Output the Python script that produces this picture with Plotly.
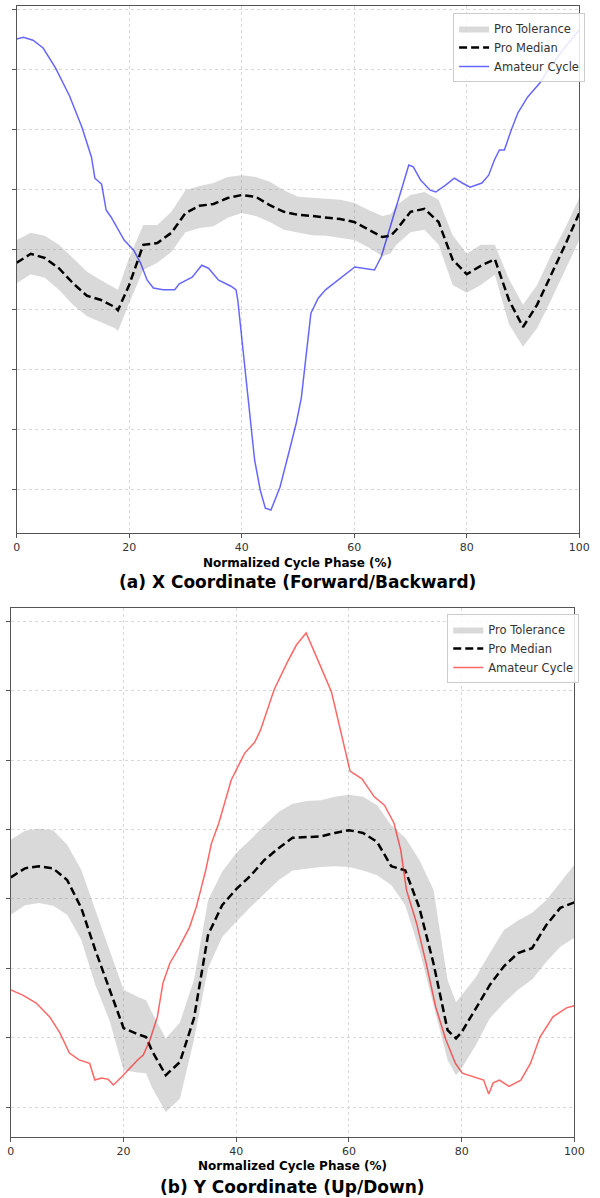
import plotly.graph_objects as go

# ---------------- (a) X coordinate ----------------
phase_a = [0, 2.5, 5, 7.5, 10, 12.5, 15, 17.5, 18, 20, 22.5, 25, 27.5, 30, 32.5, 35,
           37.5, 40, 42.5, 45, 47.5, 50, 52.5, 55, 57.5, 60, 62.5, 65, 66.5, 67.5, 70,
           72.5, 75, 77.5, 80, 82.5, 85, 87.5, 90, 92.5, 95, 97.5, 100]
median_a = [3.77, 3.92, 3.85, 3.68, 3.43, 3.22, 3.15, 3.03, 2.98, 3.40, 4.07, 4.10,
            4.27, 4.60, 4.72, 4.75, 4.85, 4.90, 4.87, 4.73, 4.62, 4.57, 4.55, 4.53,
            4.50, 4.45, 4.33, 4.20, 4.22, 4.32, 4.62, 4.67, 4.45, 3.82, 3.58, 3.72,
            3.83, 3.15, 2.70, 3.07, 3.57, 4.07, 4.60]
upper_a = [4.15, 4.27, 4.22, 4.07, 3.85, 3.62, 3.48, 3.35, 3.32, 3.85, 4.40, 4.40,
           4.62, 4.98, 5.05, 5.10, 5.20, 5.23, 5.20, 5.12, 4.98, 4.87, 4.85, 4.83,
           4.82, 4.77, 4.65, 4.55, 4.58, 4.73, 4.90, 4.95, 4.82, 4.23, 3.92, 4.07,
           4.07, 3.50, 3.07, 3.40, 3.90, 4.35, 4.85]
lower_a = [3.43, 3.58, 3.52, 3.32, 3.07, 2.88, 2.78, 2.68, 2.63, 3.10, 3.65, 3.77,
           3.95, 4.28, 4.35, 4.38, 4.52, 4.60, 4.55, 4.45, 4.32, 4.28, 4.23, 4.22,
           4.18, 4.15, 4.03, 3.88, 3.93, 4.07, 4.28, 4.32, 4.07, 3.40, 3.27, 3.40,
           3.57, 2.75, 2.37, 2.68, 3.15, 3.65, 4.15]
amateur_a_phase = [0, 1.2, 2.9, 4.7, 6.9, 9.4, 11.6, 13.3, 13.9, 15.1, 15.9, 16.8, 19.1,
                   20.8, 22.0, 23.2, 24.3, 26.0, 28.1, 28.9, 31.2, 32.9, 34.1, 35.9, 38.1,
                   39.0, 39.3, 40.6, 42.3, 43.3, 44.2, 45.2, 46.8, 48.5, 49.7, 50.6, 52.3,
                   53.6, 54.9, 60.1, 63.6, 64.8, 66.6, 69.7, 70.5, 71.8, 73.5, 74.5, 76.3,
                   77.8, 79.2, 80.6, 82.7, 83.9, 84.9, 85.8, 86.7, 87.9, 89.1, 90.8, 93.1,
                   94.8, 97.1, 100]
amateur_a = [7.50, 7.53, 7.48, 7.35, 7.02, 6.55, 6.03, 5.53, 5.18, 5.08, 4.65, 4.53, 4.15,
             3.98, 3.77, 3.48, 3.35, 3.32, 3.32, 3.42, 3.53, 3.73, 3.68, 3.48, 3.38,
             3.32, 3.15, 2.03, 0.48, -0.02, -0.32, -0.35, 0.03, 0.65, 1.10, 1.52, 2.93,
             3.18, 3.32, 3.70, 3.65, 3.87, 4.43, 5.40, 5.37, 5.15, 4.98, 4.95, 5.07,
             5.18, 5.10, 5.03, 5.10, 5.23, 5.48, 5.65, 5.65, 5.98, 6.27, 6.53, 6.78,
             7.03, 7.32, 7.65]

# ---------------- (b) Y coordinate ----------------
phase_b = [0, 2.5, 5, 7.5, 10, 12.5, 15, 17.5, 20, 22.5, 24, 25, 27.5, 30, 32.5, 35,
           37.5, 40, 42.5, 45, 47.5, 50, 52.5, 55, 57.5, 60, 62.5, 65, 67.5, 70, 72.5,
           75, 77.5, 79, 80, 82.5, 85, 87.5, 90, 92.5, 95, 97.5, 100]
median_b = [3.31, 3.44, 3.47, 3.44, 3.27, 2.87, 2.26, 1.69, 1.14, 1.05, 1.01, 0.82,
            0.46, 0.65, 1.28, 2.48, 2.91, 3.14, 3.33, 3.56, 3.73, 3.88, 3.89, 3.90,
            3.95, 3.99, 3.95, 3.82, 3.47, 3.41, 2.87, 2.07, 1.11, 0.99, 1.08, 1.43,
            1.76, 2.03, 2.22, 2.29, 2.62, 2.87, 2.95]
upper_b = [3.85, 3.98, 4.01, 3.99, 3.78, 3.42, 2.84, 2.26, 1.69, 1.59, 1.54, 1.37,
           0.99, 1.22, 1.83, 2.98, 3.39, 3.66, 3.85, 4.06, 4.25, 4.37, 4.41, 4.42,
           4.47, 4.50, 4.47, 4.35, 4.06, 3.88, 3.56, 3.13, 1.83, 1.51, 1.61, 1.87,
           2.22, 2.55, 2.69, 2.80, 2.98, 3.24, 3.49]
lower_b = [2.77, 2.91, 2.94, 2.90, 2.77, 2.41, 1.76, 1.25, 0.53, 0.50, 0.49, 0.29,
           -0.07, 0.12, 0.97, 2.00, 2.45, 2.67, 2.88, 3.08, 3.27, 3.41, 3.44, 3.46,
           3.47, 3.46, 3.41, 3.34, 3.20, 2.91, 2.26, 1.47, 0.68, 0.46, 0.56, 0.89,
           1.28, 1.50, 1.69, 1.84, 2.09, 2.31, 2.44]
amateur_b_phase = [0, 2.2, 4.5, 6.9, 8.7, 10.4, 12.1, 14.0, 14.9, 16.1, 17.3, 18.2, 19.6,
                   21.3, 22.5, 23.5, 24.7, 26.0, 27.0, 28.2, 29.9, 31.7, 32.9, 33.7, 34.6,
                   35.6, 36.9, 39.1, 40.3, 41.5, 43.3, 44.3, 46.7, 49.0, 50.7, 52.4, 54.7,
                   56.9, 60.2, 62.3, 64.5, 66.3, 68.0, 69.2, 70.2, 72.0, 73.7, 75.4, 77.2,
                   78.9, 80.1, 83.0, 83.9, 84.8, 85.6, 86.7, 88.4, 90.5, 92.2, 93.9, 96.2,
                   98.6, 100]
amateur_b = [1.69, 1.61, 1.50, 1.30, 1.07, 0.78, 0.68, 0.63, 0.39, 0.42, 0.40, 0.32, 0.43,
             0.58, 0.68, 0.75, 0.97, 1.30, 1.79, 2.07, 2.31, 2.59, 2.88, 3.13, 3.42,
             3.80, 4.09, 4.71, 4.90, 5.10, 5.26, 5.43, 6.01, 6.40, 6.66, 6.83, 6.40,
             5.98, 4.84, 4.73, 4.47, 4.35, 4.09, 3.70, 3.13, 2.65, 2.07, 1.44, 0.97,
             0.63, 0.49, 0.42, 0.39, 0.19, 0.35, 0.39, 0.30, 0.39, 0.63, 1.01, 1.30,
             1.43, 1.46]

phase_ticks = [0, 20, 40, 60, 80, 100]
grid_a = [0, 1, 2, 3, 4, 5, 6, 7, 8]
grid_b = [0, 1, 2, 3, 4, 5, 6, 7]

FONT = "DejaVu Sans"
W, H = 600, 1198

fig = go.Figure()


def add_panel(xa, ya, legend, phase, med, up, lo, am_phase, am_vals, am_color):
    fig.add_trace(go.Scatter(
        x=phase + phase[::-1], y=up + lo[::-1],
        fill="toself", fillcolor="rgba(128,128,128,0.3)",
        line=dict(width=0), mode="lines", name="Pro Tolerance",
        xaxis=xa, yaxis=ya, legend=legend, hoverinfo="skip"))
    fig.add_trace(go.Scatter(
        x=phase, y=med, mode="lines", name="Pro Median",
        line=dict(color="black", width=2.5, dash="8px,4px"),
        xaxis=xa, yaxis=ya, legend=legend))
    fig.add_trace(go.Scatter(
        x=am_phase, y=am_vals, mode="lines", name="Amateur Cycle",
        line=dict(color=am_color, width=1.5),
        xaxis=xa, yaxis=ya, legend=legend))


add_panel("x", "y", "legend", phase_a, median_a, upper_a, lower_a,
          amateur_a_phase, amateur_a, "rgba(0,0,255,0.6)")
add_panel("x2", "y2", "legend2", phase_b, median_b, upper_b, lower_b,
          amateur_b_phase, amateur_b, "rgba(255,0,0,0.6)")

axis_common = dict(
    showline=True, mirror=True, linecolor="#555555", linewidth=1.3,
    ticks="outside", ticklen=4, tickcolor="#555555", tickwidth=1,
    showgrid=True, gridcolor="#d8d8d8", gridwidth=0.8, griddash="3px,3px",
    zeroline=False,
)


def py(pix):
    return 1 - pix / H


legend_style = dict(
    xanchor="right", yanchor="top",
    bgcolor="rgba(255,255,255,0.85)", bordercolor="#cccccc", borderwidth=1,
    font=dict(family=FONT, size=11.5, color="#333333"),
    tracegroupgap=0, itemwidth=30,
)

fig.update_layout(
    width=W, height=H,
    margin=dict(l=0, r=0, t=0, b=0),
    paper_bgcolor="white", plot_bgcolor="white",
    font=dict(family=FONT, color="#333333", size=11),
    xaxis=dict(domain=[13 / W, 590 / W], range=[0, 100], tickvals=phase_ticks,
               anchor="y", tickfont=dict(size=11, color="#333333"), **axis_common),
    yaxis=dict(domain=[py(533), py(6)], range=[-0.733, 8.05], tickvals=grid_a,
               showticklabels=False, anchor="x", **axis_common),
    xaxis2=dict(domain=[7 / W, 585 / W], range=[0, 100], tickvals=phase_ticks,
                anchor="y2", tickfont=dict(size=11, color="#333333"), **axis_common),
    yaxis2=dict(domain=[py(1137), py(608)], range=[-0.43, 7.19], tickvals=grid_b,
                showticklabels=False, anchor="x2", **axis_common),
    legend=dict(x=596 / W, y=py(13), **legend_style),
    legend2=dict(x=590 / W, y=py(614), **legend_style),
    showlegend=True,
)

annotations = [
    ("Normalized Cycle Phase (%)", (13 + 590) / 2 / W, py(563), 12),
    ("(a) X Coordinate (Forward/Backward)", (13 + 590) / 2 / W, py(582), 17),
    ("Normalized Cycle Phase (%)", (7 + 585) / 2 / W, py(1166), 12),
    ("(b) Y Coordinate (Up/Down)", (7 + 585) / 2 / W, py(1187), 17),
]
for text, x, y, size in annotations:
    fig.add_annotation(text="<b>%s</b>" % text, x=x, y=y, xref="paper", yref="paper",
                       xanchor="center", yanchor="middle", showarrow=False,
                       font=dict(family=FONT, size=size, color="black"))

fig.write_html("out.html")
